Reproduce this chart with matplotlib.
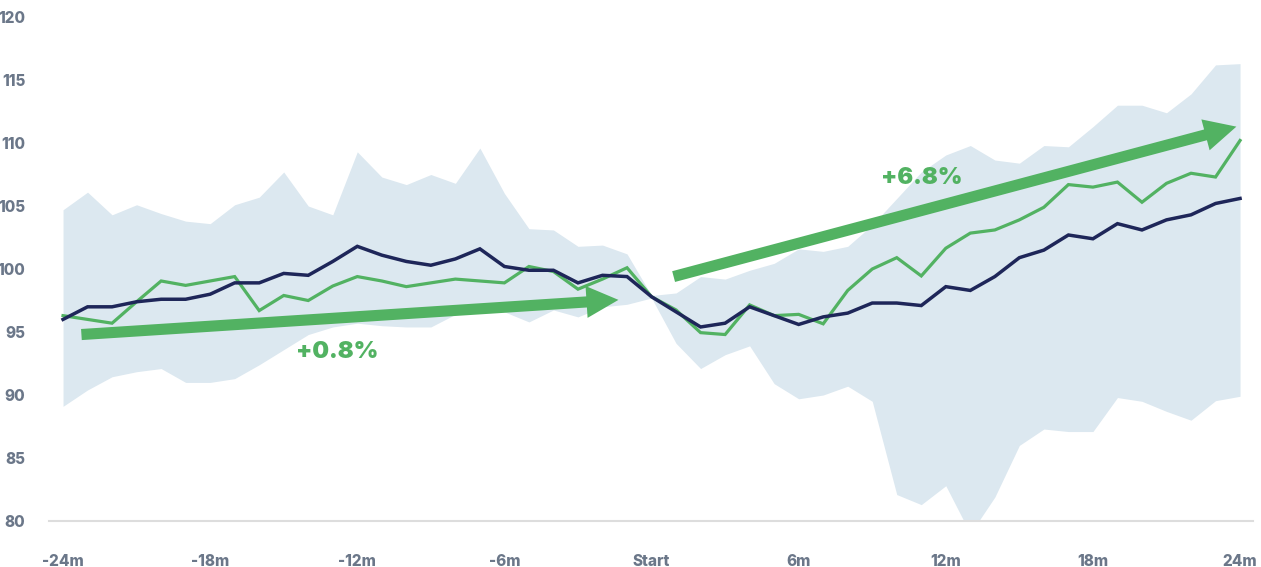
import matplotlib
matplotlib.use("Agg")
import matplotlib.pyplot as plt
from matplotlib.patches import FancyArrowPatch, ArrowStyle

months = list(range(-24, 25))

navy_line = [96.0, 97.0, 97.0, 97.4, 97.6, 97.6, 98.0, 98.9, 98.9, 99.65, 99.5, 100.6, 101.8,
             101.1, 100.6, 100.3, 100.8, 101.6, 100.2, 99.9, 99.9, 98.9, 99.5, 99.4, 97.8,
             96.6, 95.4, 95.7, 97.0, 96.3, 95.6, 96.2, 96.5, 97.3, 97.3, 97.1, 98.6,
             98.3, 99.4, 100.9, 101.5, 102.7, 102.4, 103.6, 103.1, 103.9, 104.3, 105.2, 105.6]

green_line = [96.3, 96.0, 95.7, 97.4, 99.05, 98.7, 99.05, 99.4, 96.7, 97.9, 97.5, 98.65, 99.4,
              99.05, 98.6, 98.9, 99.2, 99.05, 98.9, 100.2, 99.8, 98.4, 99.2, 100.1, 97.8,
              96.75, 94.95, 94.8, 97.15, 96.3, 96.4, 95.65, 98.3, 100.0, 100.9, 99.45, 101.65,
              102.85, 103.1, 103.9, 104.9, 106.7, 106.5, 106.9, 105.3, 106.8, 107.6, 107.3, 110.2]

band_upper = [104.7, 106.1, 104.3, 105.1, 104.4, 103.8, 103.6, 105.1, 105.7, 107.7, 105.0, 104.3, 109.3,
              107.3, 106.7, 107.5, 106.8, 109.6, 106.0, 103.2, 103.1, 101.8, 101.9, 101.2, 97.9,
              98.1, 99.4, 99.2, 99.9, 100.45, 101.6, 101.4, 101.8, 103.5, 105.6, 107.7, 109.05,
              109.8, 108.65, 108.4, 109.8, 109.7, 111.3, 113.0, 113.0, 112.4, 113.9, 116.2, 116.3]

band_lower = [89.1, 90.4, 91.45, 91.85, 92.1, 91.0, 91.0, 91.3, 92.4, 93.6, 94.8, 95.4, 95.7,
              95.5, 95.4, 95.4, 96.4, 96.5, 96.6, 95.8, 96.75, 96.2, 97.0, 97.2, 97.7,
              94.1, 92.1, 93.2, 93.9, 90.9, 89.7, 90.0, 90.7, 89.5, 82.1, 81.3, 82.8,
              79.0, 81.9, 86.0, 87.3, 87.1, 87.1, 89.8, 89.5, 88.7, 88.0, 89.55, 89.9]

xtick_pos = [-24, -18, -12, -6, 0, 6, 12, 18, 24]
xtick_labels = ["-24m", "-18m", "-12m", "-6m", "Start", "6m", "12m", "18m", "24m"]
ytick_pos = [80, 85, 90, 95, 100, 105, 110, 115, 120]

arrow1 = ((-23.25, 94.8), (-1.35, 97.55))
arrow2 = ((0.9, 99.4), (23.85, 111.3))
label1 = ("+0.8%", -12.8, 93.4)
label2 = ("+6.8%", 11.0, 107.2)

BAND = "#dce8f0"
GREEN = "#52b262"
NAVY = "#1e2659"
TICK = "#6b7789"

plt.rcParams['font.family'] = ['Inter', 'DejaVu Sans']

fig = plt.figure(figsize=(12.61, 5.67), dpi=100)
ax = fig.add_axes([0.0389, 0.0811, 0.9548, 0.8889])

ax.fill_between(months, band_lower, band_upper, color=BAND, linewidth=0, zorder=1)
ax.plot(months, green_line, color=GREEN, lw=2.3, zorder=3, solid_joinstyle='miter')
ax.plot(months, navy_line, color=NAVY, lw=2.5, zorder=4, solid_joinstyle='miter')

style = ArrowStyle.Simple(head_length=23, head_width=23, tail_width=8)
for (tail, tip) in (arrow1, arrow2):
    p = FancyArrowPatch(tail, tip, arrowstyle=style, mutation_scale=1,
                        color=GREEN, lw=0, shrinkA=0, shrinkB=0, zorder=5)
    ax.add_patch(p)

for txt, x, y in (label1, label2):
    ax.text(x, y, txt, color=GREEN, fontsize=17, fontweight=900,
            ha='center', va='center', zorder=6)

ax.set_xlim(-24.57, 24.53)
ax.set_ylim(80, 120)
ax.set_xticks(xtick_pos)
ax.set_xticklabels(xtick_labels)
ax.set_yticks(ytick_pos)
ax.set_yticklabels([str(v) for v in ytick_pos])
ax.tick_params(axis='both', length=0, colors=TICK, labelsize=11)
ax.tick_params(axis='x', pad=24)
ax.tick_params(axis='y', pad=17)
for lbl in ax.get_xticklabels() + ax.get_yticklabels():
    lbl.set_fontweight(800)
for s in ['top', 'right', 'left']:
    ax.spines[s].set_visible(False)
ax.spines['bottom'].set_color('#dddddd')
ax.spines['bottom'].set_linewidth(1.5)
ax.spines['bottom'].set_zorder(2)

fig.savefig("out.png", dpi=100, facecolor='white')
